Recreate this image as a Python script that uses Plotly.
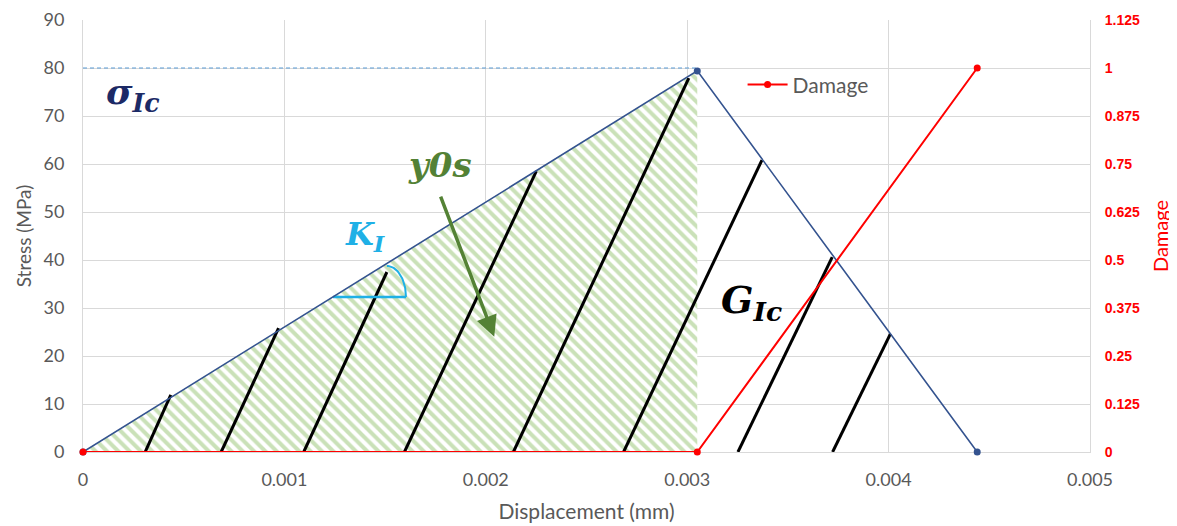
import numpy as np
import plotly.graph_objects as go

# ---------------- data ----------------
# Stress - displacement (bilinear law)
disp_pts = [0.0, 0.00305, 0.00444]
stress_pts = [0.0, 79.4, 0.0]

# Damage evolution (secondary axis)
damage_disp = [0.0, 0.00305, 0.00444]
damage_vals = [0.0, 0.0, 1.0]

# critical stress level (dashed reference)
sigma_ic_level = 80

# black G_Ic hatch strokes: bottom point -> top point
hatch_x0 = [0.000298, 0.000686, 0.001096, 0.001596, 0.002137, 0.002684, 0.003252, 0.003722]
hatch_y0 = [-1.0, 0, 0, 0, 0, 0, 0, 0]
hatch_x1 = [0.000436, 0.000971, 0.001509, 0.002251, 0.003008, 0.003371, 0.003720, 0.004009]
hatch_y1 = [11.9, 25.8, 37.5, 58.5, 77.9, 60.8, 40.6, 24.6]

# K_I angle marker
ki_level = 32.3
ki_arm_end = 0.001604
ki_arc_center = 0.001509
ki_arc_rx = 0.0000946
ki_arc_ry = 6.46

# ticks
x_ticks = [0, 0.001, 0.002, 0.003, 0.004, 0.005]
x_tick_labels = ["0", "0.001", "0.002", "0.003", "0.004", "0.005"]
y_ticks = [0, 10, 20, 30, 40, 50, 60, 70, 80, 90]
y2_ticks = [0, 0.125, 0.25, 0.375, 0.5, 0.625, 0.75, 0.875, 1.0, 1.125]
y2_tick_labels = ["0", "0.125", "0.25", "0.375", "0.5", "0.625", "0.75", "0.875", "1", "1.125"]

# ---------------- styles ----------------
GRID = "#d9d9d9"
TXT = "#595959"
BLUE = "#34538f"
RED = "#ff0000"
FONT = "Lato, Open Sans, sans-serif"
MATH = "DejaVu Serif, serif"

fig = go.Figure()

# hatched (green) region under the elastic branch
fig.add_trace(go.Scatter(
    x=[disp_pts[0], disp_pts[1], disp_pts[1], disp_pts[0]],
    y=[stress_pts[0], stress_pts[1], 0, 0],
    fill="toself", mode="lines", line=dict(width=0),
    fillcolor="rgba(255,255,255,0)",
    fillpattern=dict(shape="\\", fgcolor="#96c372", bgcolor="white", size=8, solidity=0.5),
    showlegend=False, hoverinfo="skip"))

# black hatch strokes
hx, hy = [], []
for a, b, c, d in zip(hatch_x0, hatch_y0, hatch_x1, hatch_y1):
    hx += [a, c, None]
    hy += [b, d, None]
fig.add_trace(go.Scatter(x=hx, y=hy, mode="lines", line=dict(color="black", width=3),
                         showlegend=False, hoverinfo="skip"))

# dashed sigma_Ic level
fig.add_trace(go.Scatter(x=[0, disp_pts[1]], y=[sigma_ic_level, sigma_ic_level], mode="lines",
                         line=dict(color="#5b9bd5", width=1.2, dash="4px,3px"),
                         showlegend=False, hoverinfo="skip"))

# K_I angle marker
slope = stress_pts[1] / disp_pts[1]
ki_start = ki_level / slope
t = np.linspace(0, np.pi / 2, 30)
arc_x = ki_arc_center + ki_arc_rx * np.cos(t)
arc_y = ki_level + ki_arc_ry * np.sin(t)
fig.add_trace(go.Scatter(x=[ki_start, ki_arm_end], y=[ki_level, ki_level], mode="lines",
                         line=dict(color="#1fb0e6", width=2.5), showlegend=False, hoverinfo="skip"))
fig.add_trace(go.Scatter(x=arc_x, y=arc_y, mode="lines",
                         line=dict(color="#1fb0e6", width=2), showlegend=False, hoverinfo="skip"))

# stress curve
fig.add_trace(go.Scatter(x=disp_pts, y=stress_pts, mode="lines+markers",
                         line=dict(color=BLUE, width=1.6), marker=dict(color=BLUE, size=7),
                         showlegend=False, cliponaxis=False, name="Stress"))

# damage curve
fig.add_trace(go.Scatter(x=damage_disp, y=damage_vals, mode="lines+markers", yaxis="y2",
                         line=dict(color=RED, width=2), marker=dict(color=RED, size=7),
                         name="Damage", cliponaxis=False))

# ---------------- annotations ----------------
ann = []
ann.append(dict(x=0.000104, y=74.5, xref="x", yref="y", xanchor="left", yanchor="middle",
                text="<b><i>σ</i></b><sub><b><i>Ic</i></b></sub>", showarrow=False,
                font=dict(family=MATH, size=36, color="#1c2a66")))
ann.append(dict(x=0.001290, y=45.0, xref="x", yref="y", xanchor="left", yanchor="middle",
                text="<b><i>K</i></b><sub><b><i>I</i></b></sub>", showarrow=False,
                font=dict(family=MATH, size=32, color="#1fb0e6")))
ann.append(dict(x=0.001773, y=59.8, xref="x", yref="y", xanchor="center", yanchor="middle",
                text="<b><i>y0s</i></b>", showarrow=False,
                font=dict(family=MATH, size=34, color="#538135")))
ann.append(dict(x=0.003160, y=31.2, xref="x", yref="y", xanchor="left", yanchor="middle",
                text="<b><i>G</i></b><sub><b><i>Ic</i></b></sub>", showarrow=False,
                font=dict(family=MATH, size=38, color="black")))
ann.append(dict(x=0.002042, y=24.0, ax=0.001773, ay=53.5, xref="x", yref="y",
                axref="x", ayref="y", text="", showarrow=True, arrowhead=2,
                arrowsize=1.2, arrowwidth=3.5, arrowcolor="#548235"))

fig.update_layout(
    width=1169, height=518,
    margin=dict(l=75, r=87, t=12, b=74),
    paper_bgcolor="white", plot_bgcolor="white",
    font=dict(family=FONT, color=TXT),
    annotations=ann,
    showlegend=True,
    legend=dict(x=0.655, y=0.85, xanchor="left", yanchor="middle", itemwidth=40,
                bgcolor="rgba(0,0,0,0)", font=dict(size=21, color=TXT, family=FONT)),
    xaxis=dict(range=[0, 0.005], tickvals=x_ticks, ticktext=x_tick_labels,
               showgrid=True, gridcolor=GRID, gridwidth=1, zeroline=False,
               showline=True, linecolor=GRID, ticks="", layer="below traces",
               automargin=False, ticklabelstandoff=11,
               tickfont=dict(size=18, color=TXT),
               title=dict(text="Displacement (mm)", font=dict(size=21, color=TXT), standoff=15)),
    yaxis=dict(range=[0, 90], tickvals=y_ticks, showgrid=True, gridcolor=GRID, gridwidth=1,
               zeroline=False, showline=True, linecolor=GRID, ticks="", layer="below traces",
               automargin=False, ticklabelstandoff=14,
               tickfont=dict(size=18, color=TXT),
               title=dict(text="Stress (MPa)", font=dict(size=19, color=TXT), standoff=6)),
    yaxis2=dict(range=[0, 1.125], tickvals=y2_ticks, ticktext=y2_tick_labels,
                overlaying="y", side="right", showgrid=False, zeroline=False,
                showline=True, linecolor=GRID, ticks="", layer="below traces",
                automargin=False, ticklabelstandoff=11,
                tickfont=dict(size=14, color=RED, family="Liberation Sans Narrow, Arial Narrow, sans-serif", weight="bold"),
                title=dict(text="Damage", font=dict(size=20, color=RED), standoff=14)),
)

fig.write_html("out.html")
